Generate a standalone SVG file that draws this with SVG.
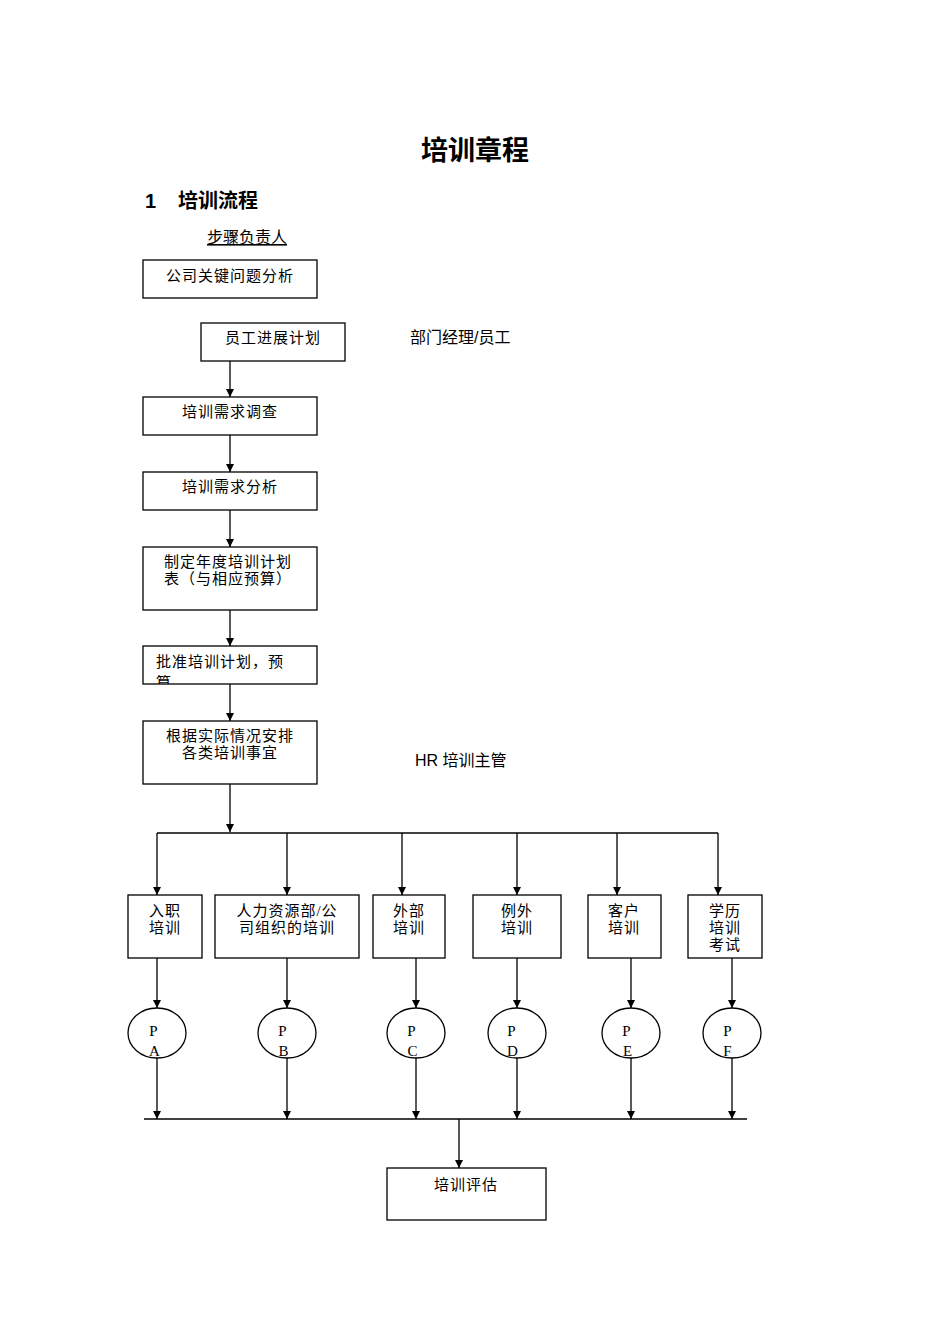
<svg xmlns="http://www.w3.org/2000/svg" width="950" height="1344" viewBox="0 0 950 1344">
<style>
.b{fill:#fff;stroke:#000;stroke-width:1.3}
.t{font-family:"Liberation Serif","Noto Sans CJK SC",serif;font-size:15px;fill:#000;letter-spacing:1px}
.s{font-family:"Liberation Sans","Noto Sans CJK SC",sans-serif;fill:#000}
.c{stroke:#000;stroke-width:1.3;fill:none}
</style>
<defs>
<marker id="a" viewBox="0 0 10 10" refX="10" refY="5" markerWidth="8" markerHeight="8" markerUnits="userSpaceOnUse" orient="auto"><path d="M0,0L10,5L0,10z" fill="#000"/></marker>
<clipPath id="cp"><rect x="143" y="646" width="174" height="38"/></clipPath>
</defs>
<rect width="950" height="1344" fill="#fff"/>
<text class="s" x="475" y="160" font-size="27" font-weight="bold" text-anchor="middle">培训章程</text>
<text class="s" x="145" y="208" font-size="20" font-weight="bold">1</text>
<text class="s" x="178" y="208" font-size="20" font-weight="bold">培训流程</text>
<text class="s" x="207" y="243" font-size="16" text-decoration="underline">步骤负责人</text>
<text class="s" x="410" y="343" font-size="16">部门经理/员工</text>
<text class="s" x="415" y="766" font-size="16">HR 培训主管</text>
<g id="connectors">
<line class="c" x1="230" y1="361" x2="230" y2="397" marker-end="url(#a)"/>
<line class="c" x1="230" y1="435" x2="230" y2="472" marker-end="url(#a)"/>
<line class="c" x1="230" y1="510" x2="230" y2="547" marker-end="url(#a)"/>
<line class="c" x1="230" y1="610" x2="230" y2="646" marker-end="url(#a)"/>
<line class="c" x1="230" y1="684" x2="230" y2="721" marker-end="url(#a)"/>
<line class="c" x1="230" y1="784" x2="230" y2="832" marker-end="url(#a)"/>
<line class="c" x1="157" y1="833" x2="718" y2="833"/>
<line class="c" x1="157" y1="833" x2="157" y2="895" marker-end="url(#a)"/>
<line class="c" x1="287" y1="833" x2="287" y2="895" marker-end="url(#a)"/>
<line class="c" x1="402" y1="833" x2="402" y2="895" marker-end="url(#a)"/>
<line class="c" x1="517" y1="833" x2="517" y2="895" marker-end="url(#a)"/>
<line class="c" x1="617" y1="833" x2="617" y2="895" marker-end="url(#a)"/>
<line class="c" x1="718" y1="833" x2="718" y2="895" marker-end="url(#a)"/>
<line class="c" x1="157" y1="958" x2="157" y2="1008" marker-end="url(#a)"/>
<line class="c" x1="287" y1="958" x2="287" y2="1008" marker-end="url(#a)"/>
<line class="c" x1="416" y1="958" x2="416" y2="1008" marker-end="url(#a)"/>
<line class="c" x1="517" y1="958" x2="517" y2="1008" marker-end="url(#a)"/>
<line class="c" x1="631" y1="958" x2="631" y2="1008" marker-end="url(#a)"/>
<line class="c" x1="732" y1="958" x2="732" y2="1008" marker-end="url(#a)"/>
<line class="c" x1="157" y1="1058" x2="157" y2="1119" marker-end="url(#a)"/>
<line class="c" x1="287" y1="1058" x2="287" y2="1119" marker-end="url(#a)"/>
<line class="c" x1="416" y1="1058" x2="416" y2="1119" marker-end="url(#a)"/>
<line class="c" x1="517" y1="1058" x2="517" y2="1119" marker-end="url(#a)"/>
<line class="c" x1="631" y1="1058" x2="631" y2="1119" marker-end="url(#a)"/>
<line class="c" x1="732" y1="1058" x2="732" y2="1119" marker-end="url(#a)"/>
<line class="c" x1="144" y1="1119" x2="747" y2="1119"/>
<line class="c" x1="459" y1="1119" x2="459" y2="1168" marker-end="url(#a)"/>
</g>
<g id="n1"><rect class="b" x="143" y="260" width="174" height="38"/><text class="t" x="230" y="281" text-anchor="middle">公司关键问题分析</text></g>
<g id="n2"><rect class="b" x="201" y="323" width="144" height="38"/><text class="t" x="273" y="343" text-anchor="middle">员工进展计划</text></g>
<g id="n3"><rect class="b" x="143" y="397" width="174" height="38"/><text class="t" x="230" y="417" text-anchor="middle">培训需求调查</text></g>
<g id="n4"><rect class="b" x="143" y="472" width="174" height="38"/><text class="t" x="230" y="492" text-anchor="middle">培训需求分析</text></g>
<g id="n5"><rect class="b" x="143" y="547" width="174" height="63"/><text class="t" x="164" y="567">制定年度培训计划</text><text class="t" x="164" y="584">表（与相应预算）</text></g>
<g id="n6"><rect class="b" x="143" y="646" width="174" height="38"/><g clip-path="url(#cp)"><text class="t" x="156" y="667" letter-spacing="3.8">批准培训计划，预</text><text class="t" x="156" y="688">算</text></g></g>
<g id="n7"><rect class="b" x="143" y="721" width="174" height="63"/><text class="t" x="230" y="741" text-anchor="middle">根据实际情况安排</text><text class="t" x="230" y="758" text-anchor="middle">各类培训事宜</text></g>
<g id="b1"><rect class="b" x="128" y="895" width="74" height="63"/><text class="t" x="165" y="916" text-anchor="middle">入职</text><text class="t" x="165" y="933" text-anchor="middle">培训</text></g>
<g id="b2"><rect class="b" x="215" y="895" width="144" height="63"/><text class="t" x="287" y="916" text-anchor="middle">人力资源部/公</text><text class="t" x="287" y="933" text-anchor="middle">司组织的培训</text></g>
<g id="b3"><rect class="b" x="373" y="895" width="72" height="63"/><text class="t" x="409" y="916" text-anchor="middle">外部</text><text class="t" x="409" y="933" text-anchor="middle">培训</text></g>
<g id="b4"><rect class="b" x="473" y="895" width="88" height="63"/><text class="t" x="517" y="916" text-anchor="middle">例外</text><text class="t" x="517" y="933" text-anchor="middle">培训</text></g>
<g id="b5"><rect class="b" x="588" y="895" width="73" height="63"/><text class="t" x="624" y="916" text-anchor="middle">客户</text><text class="t" x="624" y="933" text-anchor="middle">培训</text></g>
<g id="b6"><rect class="b" x="688" y="895" width="74" height="63"/><text class="t" x="725" y="916" text-anchor="middle">学历</text><text class="t" x="725" y="933" text-anchor="middle">培训</text><text class="t" x="725" y="950" text-anchor="middle">考试</text></g>
<g id="pa"><ellipse class="b" cx="157" cy="1033" rx="29" ry="25"/><text class="t" x="154" y="1036" text-anchor="middle">P</text><text class="t" x="155" y="1056" text-anchor="middle">A</text></g>
<g id="pb"><ellipse class="b" cx="287" cy="1033" rx="29" ry="25"/><text class="t" x="283" y="1036" text-anchor="middle">P</text><text class="t" x="284" y="1056" text-anchor="middle">B</text></g>
<g id="pc"><ellipse class="b" cx="416" cy="1033" rx="29" ry="25"/><text class="t" x="412" y="1036" text-anchor="middle">P</text><text class="t" x="413" y="1056" text-anchor="middle">C</text></g>
<g id="pd"><ellipse class="b" cx="517" cy="1033" rx="29" ry="25"/><text class="t" x="512" y="1036" text-anchor="middle">P</text><text class="t" x="513" y="1056" text-anchor="middle">D</text></g>
<g id="pe"><ellipse class="b" cx="631" cy="1033" rx="29" ry="25"/><text class="t" x="627" y="1036" text-anchor="middle">P</text><text class="t" x="628" y="1056" text-anchor="middle">E</text></g>
<g id="pf"><ellipse class="b" cx="732" cy="1033" rx="29" ry="25"/><text class="t" x="728" y="1036" text-anchor="middle">P</text><text class="t" x="728" y="1056" text-anchor="middle">F</text></g>
<g id="n8"><rect class="b" x="387" y="1168" width="159" height="52"/><text class="t" x="466" y="1190" text-anchor="middle">培训评估</text></g>
</svg>
